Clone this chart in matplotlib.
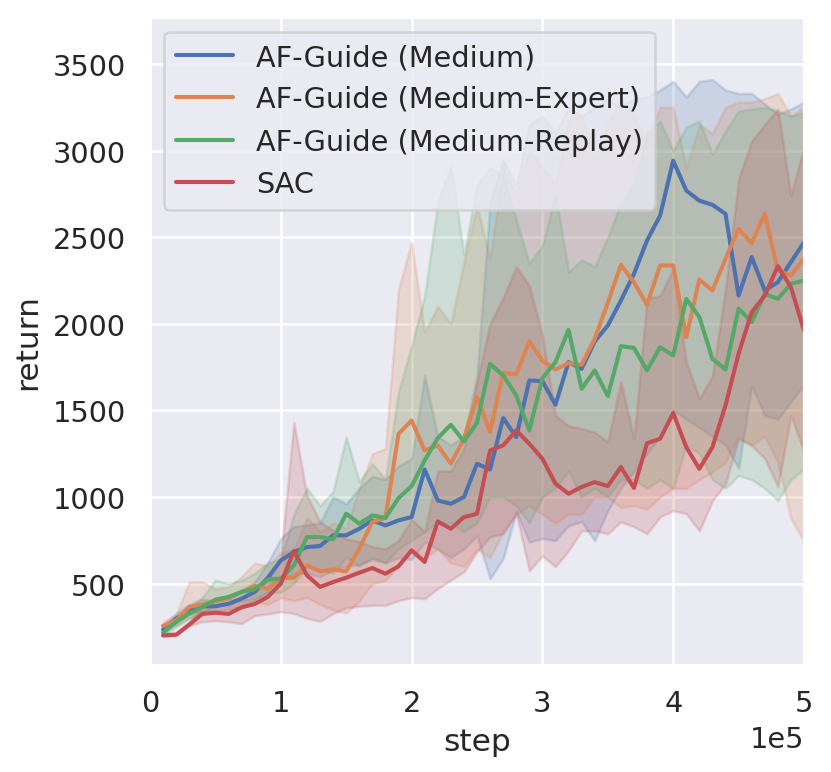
import matplotlib
matplotlib.use("Agg")
import matplotlib.pyplot as plt
import numpy as np
import seaborn as sns

# evaluation steps (every 1e4 env steps)
steps = np.arange(10000, 500001, 10000)

medium_mean = [235, 298, 346, 369, 369, 384, 413, 452, 533, 634,
               683, 711, 717, 779, 779, 817, 865, 836, 865, 884,
               1159, 980, 961, 1000, 1192, 1159, 1456, 1346, 1673, 1669,
               1533, 1779, 1740, 1898, 1990, 2134, 2288, 2481, 2625, 2942,
               2769, 2711, 2687, 2635, 2163, 2385, 2192, 2240, 2356, 2471]
medium_low = [210, 270, 320, 340, 345, 350, 370, 400, 450, 520,
              560, 560, 540, 580, 600, 610, 640, 620, 650, 640,
              740, 700, 650, 700, 776, 528, 644, 914, 740, 760,
              748, 835, 857, 748, 921, 1050, 1150, 1250, 1350, 1500,
              1450, 1400, 1350, 1300, 1163, 1643, 1470, 1450, 1550, 1650]
medium_high = [260, 330, 380, 410, 400, 420, 460, 510, 620, 760,
               830, 840, 850, 1000, 960, 1050, 1120, 1100, 1180, 1220,
               1700, 1350, 1300, 1350, 1700, 2700, 2950, 2800, 3150, 3200,
               3100, 3250, 3200, 3250, 3300, 3250, 3300, 3310, 3350, 3400,
               3310, 3400, 3410, 3350, 3330, 3330, 3270, 3210, 3240, 3280]

mexpert_mean = [256, 288, 365, 379, 398, 413, 452, 486, 471, 533,
                534, 605, 571, 582, 571, 702, 856, 879, 1365, 1442,
                1269, 1298, 1192, 1336, 1577, 1375, 1717, 1708, 1898, 1788,
                1736, 1773, 1763, 1913, 2121, 2340, 2240, 2110, 2337, 2337,
                1923, 2256, 2192, 2375, 2548, 2466, 2635, 2308, 2279, 2375]
mexpert_low = [230, 260, 300, 320, 340, 350, 380, 400, 380, 420,
               400, 420, 380, 350, 330, 400, 500, 520, 600, 700,
               650, 700, 620, 600, 700, 650, 800, 900, 950, 900,
               850, 900, 900, 1000, 1000, 940, 950, 930, 1000, 1050,
               1050, 1100, 1145, 1200, 1350, 1300, 1350, 1200, 875, 740]
mexpert_high = [280, 320, 510, 510, 470, 480, 540, 620, 600, 680,
                700, 880, 800, 850, 820, 1050, 1250, 1280, 2200, 2470,
                1950, 2100, 2000, 2356, 2680, 2375, 2897, 2750, 3000, 2900,
                2800, 3170, 3210, 2950, 3150, 3300, 3200, 3050, 3250, 3250,
                2900, 3150, 3100, 3250, 3280, 3280, 3300, 3330, 3200, 3250]

mreplay_mean = [217, 279, 327, 365, 407, 423, 452, 467, 523, 529,
                605, 769, 769, 755, 904, 846, 894, 879, 994, 1063,
                1211, 1340, 1417, 1321, 1429, 1769, 1702, 1586, 1384, 1687,
                1779, 1965, 1625, 1731, 1583, 1871, 1861, 1731, 1865, 1817,
                2144, 2039, 1798, 1736, 2087, 2010, 2173, 2144, 2231, 2250]
mreplay_low = [200, 250, 300, 330, 370, 380, 400, 410, 450, 450,
               500, 600, 580, 560, 650, 600, 650, 620, 700, 750,
               800, 850, 850, 800, 850, 1000, 1000, 950, 850, 1000,
               1050, 1150, 1000, 1050, 1000, 1100, 1100, 1050, 1100, 1050,
               1300, 1250, 1100, 1050, 1124, 1100, 1050, 979, 1100, 1163]
mreplay_high = [240, 310, 360, 420, 520, 500, 520, 560, 620, 640,
                900, 1050, 950, 1031, 1348, 1088, 1192, 1105, 1608, 1873,
                2162, 2700, 2910, 2400, 2800, 2900, 2850, 2600, 2350, 2450,
                2750, 2300, 2370, 2330, 2500, 2700, 2800, 3100, 3170, 3000,
                3136, 3170, 2980, 3113, 3229, 3240, 3250, 3230, 3200, 3220]

sac_mean = [201, 205, 263, 325, 332, 325, 363, 382, 423, 500,
            688, 548, 481, 509, 534, 563, 590, 557, 600, 692,
            625, 859, 817, 884, 903, 1269, 1298, 1384, 1308, 1221,
            1077, 1019, 1058, 1086, 1063, 1173, 1052, 1311, 1336, 1485,
            1288, 1163, 1288, 1529, 1827, 2067, 2163, 2333, 2212, 1961]
sac_low = [194, 200, 257, 280, 286, 280, 269, 315, 325, 338,
           327, 300, 282, 327, 361, 370, 375, 375, 402, 419,
           413, 471, 520, 569, 684, 771, 788, 904, 575, 661,
           598, 690, 805, 805, 788, 857, 828, 788, 886, 921,
           904, 805, 979, 1077, 1336, 1298, 1221, 1060, 1471, 1261]
sac_high = [215, 215, 280, 370, 380, 370, 420, 450, 520, 650,
            1430, 1009, 857, 807, 759, 742, 713, 700, 750, 870,
            800, 1150, 1150, 1280, 1665, 2000, 2150, 2329, 2220, 1932,
            1470, 1411, 1394, 1375, 1318, 1665, 1336, 2144, 2163, 2317,
            1779, 1567, 1700, 2200, 2836, 3055, 3150, 3240, 2740, 3020]

labels = ["AF-Guide (Medium)", "AF-Guide (Medium-Expert)",
          "AF-Guide (Medium-Replay)", "SAC"]

sns.set_theme(style="darkgrid", context="notebook")
colors = sns.color_palette("deep")

fig = plt.figure(figsize=(831 / 183, 773 / 183), dpi=183)
ax = fig.add_axes([0.1805, 0.1384, 0.787, 0.838])

series = [
    (medium_mean, medium_low, medium_high),
    (mexpert_mean, mexpert_low, mexpert_high),
    (mreplay_mean, mreplay_low, mreplay_high),
    (sac_mean, sac_low, sac_high),
]
for k, (mean, low, high) in enumerate(series):
    ax.plot(steps, mean, color=colors[k], label=labels[k], lw=1.6)
    ax.fill_between(steps, low, high, color=colors[k], alpha=0.2)

ax.set_xlim(0, 500000)
ax.set_ylim(30, 3770)
ax.set_yticks([500, 1000, 1500, 2000, 2500, 3000, 3500])
ax.ticklabel_format(axis="x", style="sci", scilimits=(0, 0))
ax.tick_params(labelsize=11.3)
ax.xaxis.get_offset_text().set_fontsize(11.3)
ax.set_xlabel("step", fontsize=12.3)
ax.set_ylabel("return", fontsize=12.3)
ax.legend(loc="upper left", fontsize=11.3)

fig.savefig("out.png", dpi=183)
